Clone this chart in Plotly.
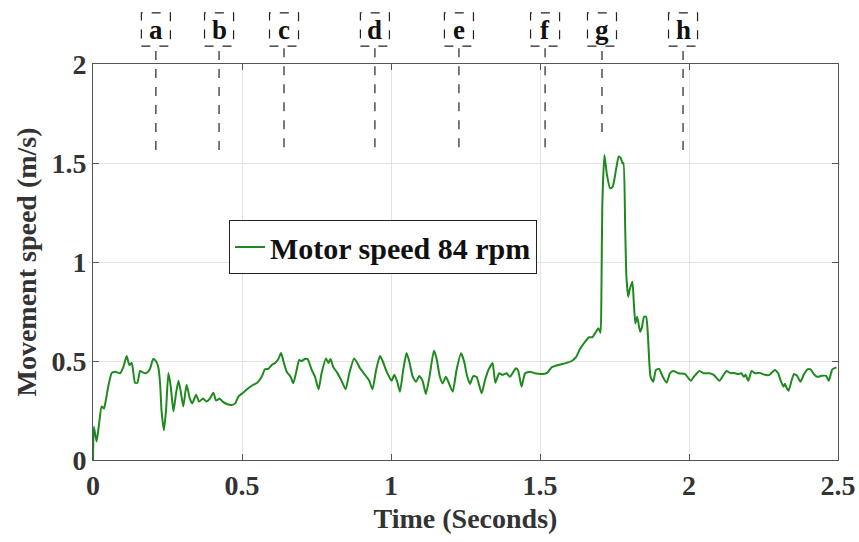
import plotly.graph_objects as go

# ---- data ----
time_s = [0.000, 0.003, 0.012, 0.020, 0.029, 0.037, 0.044, 0.051, 0.063, 0.074, 0.091, 0.102, 0.113, 0.122, 0.130,
          0.141, 0.149, 0.158, 0.170, 0.180, 0.191, 0.202, 0.211, 0.219, 0.225, 0.230, 0.238, 0.245, 0.253, 0.261,
          0.270, 0.279, 0.287, 0.295, 0.303, 0.314, 0.325, 0.333, 0.346, 0.356, 0.369, 0.381, 0.392, 0.404, 0.413,
          0.425, 0.435, 0.449, 0.465, 0.477, 0.488, 0.504, 0.521, 0.538, 0.551, 0.566, 0.577, 0.588, 0.600, 0.611,
          0.622, 0.631, 0.641, 0.650, 0.663, 0.672, 0.681, 0.692, 0.700, 0.711, 0.720, 0.734, 0.745, 0.757, 0.767,
          0.782, 0.790, 0.797, 0.806, 0.820, 0.834, 0.848, 0.860, 0.876, 0.887, 0.896, 0.913, 0.927, 0.938, 0.950,
          0.963, 0.972, 0.983, 0.994, 1.002, 1.011, 1.021, 1.030, 1.041, 1.052, 1.061, 1.073, 1.084, 1.095, 1.106,
          1.117, 1.129, 1.144, 1.153, 1.164, 1.173, 1.184, 1.191, 1.207, 1.220, 1.235, 1.245, 1.256, 1.265, 1.276,
          1.287, 1.304, 1.315, 1.327, 1.341, 1.350, 1.363, 1.374, 1.388, 1.399, 1.419, 1.427, 1.438, 1.450, 1.466,
          1.483, 1.505, 1.524, 1.539, 1.561, 1.584, 1.606, 1.621, 1.634, 1.651, 1.665, 1.676, 1.688, 1.696, 1.703,
          1.706, 1.709, 1.716, 1.724, 1.735, 1.744, 1.755, 1.764, 1.771, 1.777, 1.780, 1.786, 1.790, 1.796, 1.801,
          1.810, 1.815, 1.820, 1.826, 1.836, 1.842, 1.849, 1.856, 1.861, 1.867, 1.871, 1.880, 1.889, 1.900, 1.912,
          1.925, 1.936, 1.947, 1.964, 1.987, 2.006, 2.016, 2.035, 2.049, 2.068, 2.083, 2.102, 2.116, 2.126, 2.140,
          2.151, 2.165, 2.176, 2.184, 2.190, 2.199, 2.210, 2.222, 2.237, 2.255, 2.270, 2.288, 2.299, 2.308, 2.317,
          2.322, 2.327, 2.334, 2.344, 2.352, 2.363, 2.374, 2.385, 2.397, 2.408, 2.419, 2.430, 2.445, 2.460, 2.469,
          2.475, 2.481, 2.495]
speed_ms = [0.000, 0.168, 0.093, 0.177, 0.270, 0.260, 0.310, 0.370, 0.440, 0.446, 0.438, 0.470, 0.525, 0.480, 0.490,
            0.390, 0.390, 0.450, 0.440, 0.440, 0.460, 0.510, 0.500, 0.470, 0.390, 0.250, 0.150, 0.250, 0.440, 0.370,
            0.245, 0.340, 0.400, 0.340, 0.270, 0.380, 0.310, 0.286, 0.330, 0.295, 0.310, 0.295, 0.310, 0.340, 0.300,
            0.310, 0.295, 0.283, 0.278, 0.286, 0.320, 0.340, 0.362, 0.380, 0.390, 0.420, 0.458, 0.460, 0.480, 0.490,
            0.510, 0.540, 0.488, 0.446, 0.420, 0.387, 0.438, 0.505, 0.500, 0.510, 0.510, 0.455, 0.420, 0.357, 0.438,
            0.513, 0.490, 0.510, 0.470, 0.440, 0.400, 0.357, 0.438, 0.513, 0.490, 0.463, 0.430, 0.400, 0.357, 0.455,
            0.525, 0.500, 0.455, 0.420, 0.400, 0.430, 0.395, 0.345, 0.455, 0.540, 0.500, 0.420, 0.395, 0.424, 0.400,
            0.333, 0.420, 0.552, 0.513, 0.420, 0.387, 0.420, 0.400, 0.345, 0.455, 0.539, 0.500, 0.420, 0.384, 0.424,
            0.420, 0.337, 0.400, 0.455, 0.490, 0.390, 0.438, 0.430, 0.438, 0.420, 0.463, 0.450, 0.370, 0.438, 0.446,
            0.438, 0.434, 0.440, 0.468, 0.480, 0.488, 0.500, 0.520, 0.560, 0.597, 0.620, 0.620, 0.648, 0.665, 0.643,
            0.825, 1.280, 1.540, 1.448, 1.372, 1.380, 1.465, 1.532, 1.525, 1.498, 1.500, 1.160, 0.926, 0.825, 0.860,
            0.900, 0.790, 0.690, 0.724, 0.648, 0.670, 0.724, 0.724, 0.657, 0.488, 0.420, 0.395, 0.455, 0.460, 0.420,
            0.390, 0.438, 0.450, 0.438, 0.434, 0.400, 0.420, 0.450, 0.438, 0.438, 0.430, 0.400, 0.430, 0.450, 0.438,
            0.440, 0.434, 0.438, 0.420, 0.430, 0.400, 0.450, 0.438, 0.440, 0.430, 0.430, 0.455, 0.438, 0.400, 0.370,
            0.385, 0.366, 0.350, 0.400, 0.434, 0.425, 0.395, 0.430, 0.458, 0.458, 0.434, 0.420, 0.425, 0.425, 0.400,
            0.430, 0.458, 0.468]

event_labels = ["a", "b", "c", "d", "e", "f", "g", "h"]
event_times = [0.211, 0.423, 0.641, 0.946, 1.228, 1.517, 1.708, 1.980]
event_line_bottom = [1.566, 1.566, 1.58, 1.58, 1.58, 1.58, 1.657, 1.566]

x_ticks = [0, 0.5, 1, 1.5, 2, 2.5]
x_tick_text = ["0", "0.5", "1", "1.5", "2", "2.5"]
y_ticks = [0, 0.5, 1, 1.5, 2]
y_tick_text = ["0", "0.5", "1", "1.5", "2"]
X_MAX = 2.5
Y_MAX = 2.0

FONT = "Liberation Serif"

fig = go.Figure()
fig.add_trace(go.Scatter(
    x=time_s, y=speed_ms, mode="lines", name="<b>Motor speed 84 rpm</b>",
    line=dict(color="#1e8a1e", width=2, shape="spline", smoothing=0.5),
))

shapes = []
annotations = []
box_half = 0.0487
for lab, t, stop in zip(event_labels, event_times, event_line_bottom):
    shapes.append(dict(type="line", xref="x", yref="paper", x0=t, x1=t,
                       y0=stop / Y_MAX, y1=1.040,
                       line=dict(color="#222222", width=1.2, dash="dash")))
    shapes.append(dict(type="rect", xref="x", yref="paper", x0=t - box_half, x1=t + box_half,
                       y0=1.045, y1=1.129,
                       line=dict(color="#222222", width=1.2, dash="dash")))
    annotations.append(dict(text=f"<b>{lab}</b>", x=t, y=1.087, xref="x", yref="paper",
                            showarrow=False, xanchor="center", yanchor="middle",
                            font=dict(family=FONT, size=27, color="#111111")))

fig.update_layout(
    width=859, height=542, autosize=False,
    margin=dict(l=93, r=21, t=64, b=82),
    plot_bgcolor="white", paper_bgcolor="white",
    font=dict(family=FONT, size=28, color="#333333"),
    showlegend=True,
    legend=dict(x=0.1826, y=0.606, xanchor="left", yanchor="top",
                bgcolor="white", bordercolor="#222222", borderwidth=1,
                font=dict(family=FONT, size=30, color="#111111"),
                itemwidth=30, tracegroupgap=0),
    shapes=shapes,
    annotations=annotations,
)
fig.update_xaxes(
    range=[0, X_MAX], tickvals=x_ticks, ticktext=[f"<b>{t}</b>" for t in x_tick_text],
    automargin=False,
    showgrid=True, gridcolor="#e3e3e3", gridwidth=1, zeroline=False,
    showline=True, linecolor="#555555", linewidth=1, mirror="ticks",
    ticks="inside", ticklen=6, tickcolor="#555555",
    tickfont=dict(family=FONT, size=28, color="#333333"),
    title=dict(text="<b>Time (Seconds)</b>", font=dict(family=FONT, size=28, color="#333333"), standoff=8),
)
fig.update_yaxes(
    range=[0, Y_MAX], tickvals=y_ticks, ticktext=[f"<b>{t}</b>" for t in y_tick_text],
    automargin=False,
    showgrid=True, gridcolor="#e3e3e3", gridwidth=1, zeroline=False,
    showline=True, linecolor="#555555", linewidth=1, mirror="ticks",
    ticks="inside", ticklen=6, tickcolor="#555555",
    tickfont=dict(family=FONT, size=28, color="#333333"),
    title=dict(text="<b>Movement speed (m/s)</b>", font=dict(family=FONT, size=28, color="#333333"), standoff=6),
)

fig.write_html("out.html")
